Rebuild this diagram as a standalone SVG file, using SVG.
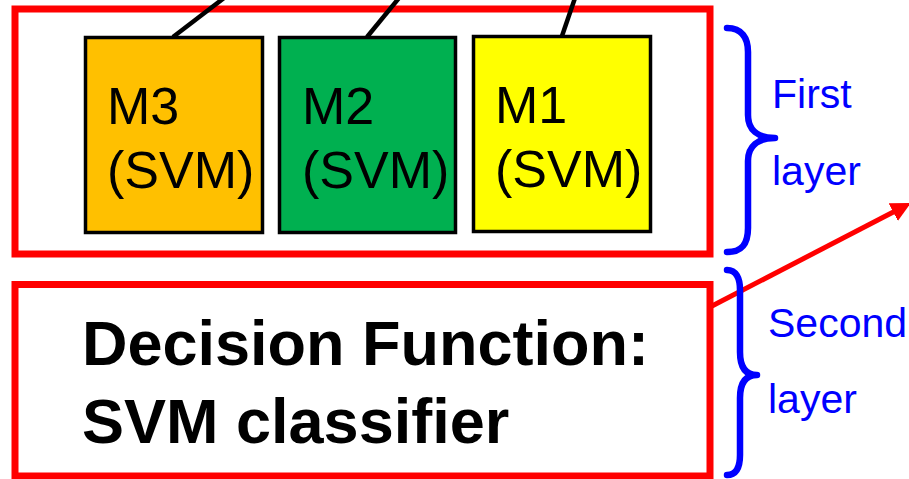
<svg xmlns="http://www.w3.org/2000/svg" width="909" height="479" viewBox="0 0 909 479">
  <style>
    .layer { fill: none; stroke: #FF0000; stroke-width: 7; }
    .model { stroke: #000000; stroke-width: 3.5; }
    .model-text { font-family: "Liberation Sans", Arial, sans-serif; font-size: 52px; fill: #000000; }
    .decision-text { font-family: "Liberation Sans", Arial, sans-serif; font-size: 63px; font-weight: bold; fill: #000000; }
    .brace { fill: none; stroke: #0000FF; stroke-width: 6.5; stroke-linecap: round; stroke-linejoin: round; }
    .brace-text { font-family: "Liberation Sans", Arial, sans-serif; font-size: 41px; fill: #0000FF; }
    .input { stroke: #000000; stroke-width: 4.5; }
    .output { stroke: #FF0000; stroke-width: 5; fill: none; }
  </style>
  <defs>
    <marker id="redArrow" markerWidth="4" markerHeight="4" refX="2.2" refY="2" orient="auto" markerUnits="strokeWidth">
      <path d="M0,0 L4,2 L0,4 Z" fill="#FF0000"/>
    </marker>
  </defs>

  <rect width="909" height="479" fill="#FFFFFF"/>

  <!-- layer frames -->
  <g id="first-layer">
    <rect class="layer" x="15" y="9" width="695" height="245"/>
  </g>
  <g id="second-layer">
    <rect class="layer" x="15" y="284.5" width="695" height="191.5"/>
    <text class="decision-text" x="82" y="365">Decision Function:</text>
    <text class="decision-text" x="82" y="443">SVM classifier</text>
  </g>

  <!-- first-layer models -->
  <g id="m3">
    <rect class="model" x="85.5" y="37.5" width="177" height="195" fill="#FFC000"/>
    <text class="model-text" x="107" y="124">M3</text>
    <text class="model-text" x="107" y="188">(SVM)</text>
  </g>
  <g id="m2">
    <rect class="model" x="279.5" y="37.5" width="176" height="195" fill="#00B050"/>
    <text class="model-text" x="302" y="124">M2</text>
    <text class="model-text" x="302" y="188">(SVM)</text>
  </g>
  <g id="m1">
    <rect class="model" x="473.5" y="36.5" width="177" height="195" fill="#FFFF00"/>
    <text class="model-text" x="495" y="123">M1</text>
    <text class="model-text" x="495" y="187">(SVM)</text>
  </g>

  <!-- connectors -->
  <g id="connectors">
    <line class="input" x1="173" y1="37" x2="224" y2="-2"/>
    <line class="input" x1="367" y1="37" x2="399" y2="-2"/>
    <line class="input" x1="562" y1="36" x2="575" y2="-2"/>
    <line class="output" x1="712" y1="306" x2="903" y2="207" marker-end="url(#redArrow)"/>
  </g>

  <!-- layer braces and labels -->
  <g id="first-brace">
    <path class="brace" d="M727,28 C742,28 748,38 748,52 L748,115 C748,130 758,138 775,138 C758,138 748,146 748,161 L748,228 C748,244 742,252 727,252"/>
    <text class="brace-text" x="772" y="108">First</text>
    <text class="brace-text" x="772" y="185">layer</text>
  </g>
  <g id="second-brace">
    <path class="brace" d="M727,270 C736,270 740,278 740,290 L740,352 C740,368 746,375 757,375 C746,375 740,382 740,398 L740,455 C740,468 736,475 727,475"/>
    <text class="brace-text" x="768" y="337">Second</text>
    <text class="brace-text" x="768" y="413">layer</text>
  </g>
</svg>
